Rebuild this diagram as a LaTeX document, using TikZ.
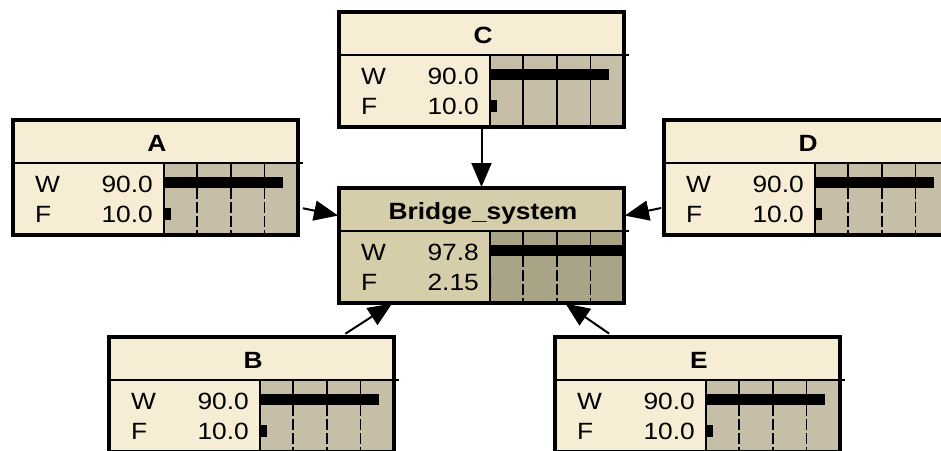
\documentclass[tikz,border=0pt]{standalone}
\usepackage{fontspec}
\setmainfont{Liberation Sans}[FakeStretch=1.12]
\usetikzlibrary{arrows.meta}

% node palettes: pl = ordinary node, plc = ordinary node with solid grid, dp = child node
\definecolor{pl-head}{RGB}{247,237,212}
\definecolor{pl-bar}{RGB}{199,190,168}
\colorlet{plc-head}{pl-head}
\colorlet{plc-bar}{pl-bar}
\definecolor{dp-head}{RGB}{214,205,170}
\definecolor{dp-bar}{RGB}{170,164,134}

\tikzset{
  pl-grid/.style={line width=1.4pt, dash pattern=on 11pt off 3pt},
  plc-grid/.style={line width=1.4pt},
  dp-grid/.style={line width=1.4pt, dash pattern=on 11pt off 3pt},
  gridtop/.style={line width=1.4pt},
  frame/.style={draw=black, line width=3.5pt, rectangle, inner sep=0pt, outer sep=0pt,
    minimum width=285pt, minimum height=115pt, anchor=north west},
  sepline/.style={line width=1.5pt},
  divline/.style={line width=2pt},
  titletext/.style={font=\fontsize{23.5}{27}\selectfont\bfseries, inner sep=0pt, anchor=base},
  stateword/.style={font=\fontsize{23.5}{27}\selectfont, inner sep=0pt, anchor=base west},
  stateval/.style={font=\fontsize{23.5}{27}\selectfont, inner sep=0pt, anchor=base east},
  link/.style={line width=2pt, -{Triangle[length=24pt,width=20pt]}},
}

% #1 name, #2 left, #3 top, #4 title, #5 W value, #6 F value,
% #7 W bar length, #8 F bar length, #9 palette
\newcommand\beliefnode[9]{%
  \begin{scope}[shift={(#2,#3)}]
    \fill[#9-head] (0,0) rectangle (285,115);
    \fill[#9-bar] (150.5,43) rectangle (285,115);
    \foreach \gx in {184,218,251.5}{
      \draw[gridtop] (\gx,43) -- (\gx,57);
      \draw[#9-grid] (\gx,68) -- (\gx,115);
    }
    \fill[black] (152,57) rectangle ({152+#7},68);
    \fill[black] (152,88) rectangle ({152+#8},100);
    \draw[sepline] (0,43) -- (290,43);
    \draw[divline] (150.5,43) -- (150.5,115);
    \node[frame, name=#1] at (0,0) {};
    \node[titletext, name=#1-title] at (144,31) {#4};
    \node[stateword, name=#1-w] at (22,72) {W};
    \node[stateval, name=#1-wv] at (140,72) {#5};
    \node[stateword, name=#1-f] at (22,102) {F};
    \node[stateval, name=#1-fv] at (140,102) {#6};
  \end{scope}}

\begin{document}
\begin{tikzpicture}[x=1pt, y=-1pt]
  \useasboundingbox (0,0) rectangle (941,450);
  \clip (0,0) rectangle (941,450);

  \beliefnode{C}{339}{12}{C}{90.0}{10.0}{118}{6}{plc}
  \beliefnode{A}{13}{120}{A}{90.0}{10.0}{118}{6}{pl}
  \beliefnode{D}{664}{120}{D}{90.0}{10.0}{118}{6}{pl}
  \beliefnode{Bridge}{339}{188}{Bridge\_system}{97.8}{2.15}{131}{0}{dp}
  \beliefnode{B}{109}{337}{B}{90.0}{10.0}{118}{6}{pl}
  \beliefnode{E}{555}{337}{E}{90.0}{10.0}{118}{6}{pl}

  \draw[link, shorten >=1pt] (C) -- (Bridge);
  \draw[link, shorten <=5pt, shorten >=1pt] (A) -- (Bridge);
  \draw[link, shorten <=3pt, shorten >=1pt] (D) -- (Bridge);
  \draw[link, shorten <=6pt, shorten >=1pt] (B) -- (Bridge);
  \draw[link, shorten <=6pt, shorten >=1pt] (E) -- (Bridge);
\end{tikzpicture}
\end{document}
